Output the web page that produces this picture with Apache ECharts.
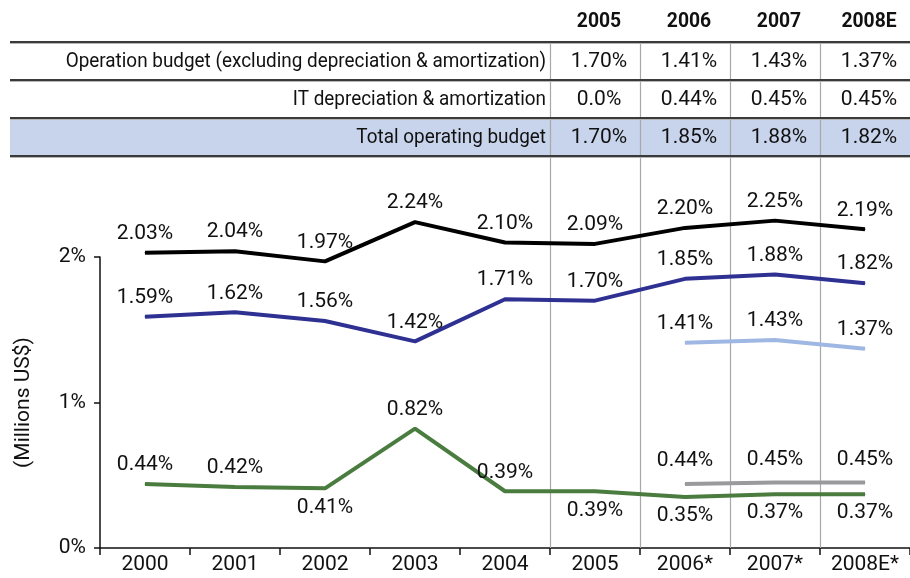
<!DOCTYPE html>
<html lang="en">
<head>
    <meta charset="UTF-8">
    <title>Operating budget</title>
    <script src="https://cdn.jsdelivr.net/npm/echarts@6/dist/echarts.min.js"></script>
    <style>
        body { margin: 0; background: #fff; }
        #main { width: 910px; height: 578px; }
    </style>
</head>
<body>
<div id="main"></div>
<script type="text/javascript">
    var FONT = 'Roboto, "Liberation Sans", sans-serif';

    // chart data
    var years = ['2000', '2001', '2002', '2003', '2004', '2005', '2006*', '2007*', '2008E*'];
    var totalWithIT = [2.03, 2.04, 1.97, 2.24, 2.10, 2.09, 2.20, 2.25, 2.19];
    var totalBudget = [1.59, 1.62, 1.56, 1.42, 1.71, 1.70, 1.85, 1.88, 1.82];
    var opBudget = [null, null, null, null, null, null, 1.41, 1.43, 1.37];
    var itDepr = [null, null, null, null, null, null, 0.44, 0.45, 0.45];
    var itSpend = [0.44, 0.42, 0.41, 0.82, 0.39, 0.39, 0.35, 0.37, 0.37];
    var itSpendBelow = [2, 5, 6, 7, 8]; // labels drawn under the line

    // table data
    var tableYears = ['2005', '2006', '2007', '2008E'];
    var tableRows = [
        'Operation budget (excluding depreciation & amortization)',
        'IT depreciation & amortization',
        'Total operating budget'
    ];
    var tableVals = [
        ['1.70%', '1.41%', '1.43%', '1.37%'],
        ['0.0%', '0.44%', '0.45%', '0.45%'],
        ['1.70%', '1.85%', '1.88%', '1.82%']
    ];

    function pct(v) { return v.toFixed(2) + '%'; }

    var chart = echarts.init(document.getElementById('main'));

    function lineSeries(name, data, color, below, dist) {
        return {
            name: name,
            type: 'line',
            data: data.map(function (v, i) {
                if (v === null) return null;
                return {
                    value: v,
                    label: { position: below && below.indexOf(i) >= 0 ? 'bottom' : 'top' }
                };
            }),
            clip: false,
            symbol: 'circle',
            symbolSize: 1,
            showSymbol: true,
            lineStyle: { color: color, width: 4, cap: 'butt' },
            itemStyle: { color: color },
            label: {
                show: true,
                distance: dist || 8,
                color: '#111',
                fontSize: 21,
                fontFamily: FONT,
                formatter: function (p) { return pct(p.value); }
            },
            animation: false
        };
    }

    var option = {
        animation: false,
        grid: { left: 100, right: -10, top: 257, bottom: 30 },
        xAxis: {
            type: 'category',
            data: years,
            boundaryGap: true,
            axisLine: { lineStyle: { color: '#111', width: 1.5 } },
            axisTick: { show: true, length: 7, lineStyle: { color: '#111', width: 1.5 } },
            axisLabel: { color: '#111', fontSize: 21, fontFamily: FONT, margin: 6 },
            splitLine: { show: false }
        },
        yAxis: {
            type: 'value',
            min: 0,
            max: 2,
            interval: 1,
            name: '(Millions US$)',
            nameLocation: 'middle',
            nameGap: 66,
            nameTextStyle: { color: '#111', fontSize: 21, fontFamily: FONT },
            axisLine: { show: true, lineStyle: { color: '#111', width: 1.5 } },
            axisTick: { show: true, length: 6, lineStyle: { color: '#111', width: 1.5 } },
            axisLabel: { color: '#111', fontSize: 21, fontFamily: FONT, margin: 14,
                formatter: function (v) { return v + '%'; } },
            splitLine: { show: false }
        },
        series: [
            lineSeries('IT spending', itSpend, '#4a7c3f', itSpendBelow, 8),
            lineSeries('IT depreciation', itDepr, '#9a9a9c', null, 12),
            lineSeries('Operation budget', opBudget, '#9fb7e3', null, 8),
            lineSeries('Total operating budget', totalBudget, '#2e3192', null, 8),
            lineSeries('Total incl. IT', totalWithIT, '#000000', null, 8)
        ]
    };
    chart.setOption(option);

    // table and column separators, positioned from the category axis
    var x0 = chart.convertToPixel({ xAxisIndex: 0 }, years[0]);
    var x1 = chart.convertToPixel({ xAxisIndex: 0 }, years[1]);
    var band = x1 - x0;
    var y0 = chart.convertToPixel({ yAxisIndex: 0 }, 0);
    var firstCol = 5;
    var rowLines = [42, 80, 118, 156];
    var rowMid = [62, 100, 138];
    var g = [];

    g.push({ type: 'rect', shape: { x: 10, y: rowLines[2], width: 900, height: rowLines[3] - rowLines[2] },
        style: { fill: '#c8d4ec' }, z: 0 });
    rowLines.forEach(function (y) {
        g.push({ type: 'line', shape: { x1: 10, y1: y, x2: 910, y2: y },
            style: { stroke: '#3a3a3a', lineWidth: 2 }, z: 2 });
        g.push({ type: 'line', shape: { x1: 10, y1: y + 1.5, x2: 910, y2: y + 1.5 },
            style: { stroke: '#b5b5b5', lineWidth: 1 }, z: 2 });
    });
    for (var c = firstCol; c < years.length; c++) {
        var bx = Math.round(chart.convertToPixel({ xAxisIndex: 0 }, years[c]) - band / 2) + 0.5;
        g.push({ type: 'line', shape: { x1: bx, y1: rowLines[0] + 2, x2: bx, y2: y0 },
            style: { stroke: '#a8a8a8', lineWidth: 1.2 }, z: 1 });
    }
    tableYears.forEach(function (t, j) {
        var cx = chart.convertToPixel({ xAxisIndex: 0 }, years[firstCol + j]) + 4;
        g.push({ type: 'text', x: cx, y: 22, z: 3, scaleX: 0.92,
            style: { text: t, fill: '#111', font: 'bold 21px ' + FONT, align: 'center', verticalAlign: 'middle' } });
        tableVals.forEach(function (row, r) {
            g.push({ type: 'text', x: cx, y: rowMid[r], z: 3,
                style: { text: row[j], fill: '#111', font: '21px ' + FONT, align: 'center', verticalAlign: 'middle' } });
        });
    });
    tableRows.forEach(function (t, r) {
        g.push({ type: 'text', x: 546, y: rowMid[r], z: 3, scaleX: 0.9,
            style: { text: t, fill: '#111', font: '21px ' + FONT, align: 'right', verticalAlign: 'middle' } });
    });
    chart.setOption({ graphic: g });
</script>
</body>
</html>
